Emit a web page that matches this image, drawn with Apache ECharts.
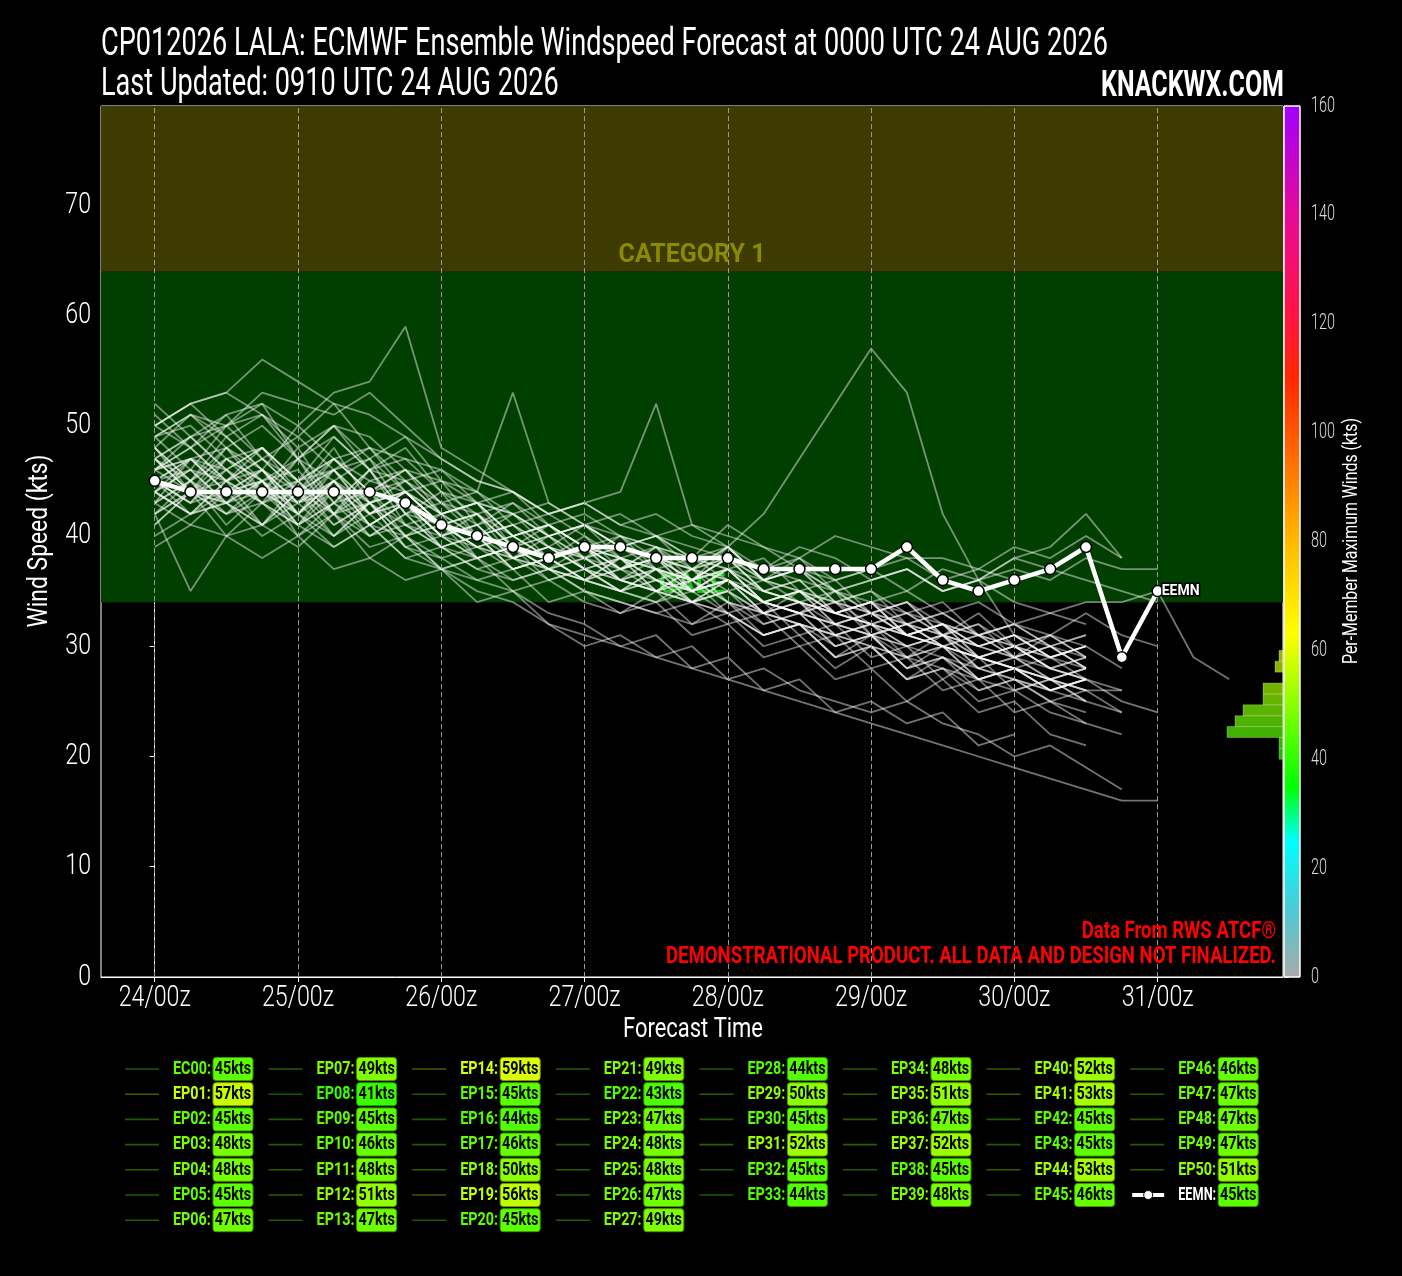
<!DOCTYPE html>
<html><head><meta charset="utf-8">
<script src="https://cdn.jsdelivr.net/npm/echarts@6/dist/echarts.min.js"></script>
<style>html,body{margin:0;padding:0;background:#000;} #c{width:1402px;height:1276px;}</style>
</head><body><div id="c"></div>
<script>
const FONT = "Roboto, 'Noto Sans', sans-serif";

// ---------------- DATA ----------------
const timeHours = [0,6,12,18,24,30,36,42,48,54,60,66,72,78,84,90,96,102,108,114,120,126,132,138,144,150,156,162,168,174,180];
const xTickHours = [0,24,48,72,96,120,144,168];
const xTickLabels = ['24/00z','25/00z','26/00z','27/00z','28/00z','29/00z','30/00z','31/00z'];
const yTickValues = [0,10,20,30,40,50,60,70];
const cbarTicks = [0,20,40,60,80,100,120,140,160];

const EC00 = [45,43,44,44,42,45,41,43,39,40,37,38,39,36,37,35,36,34,35,33,32,33,31,30,31,29,30];
const EP01 = [44,47,45,48,44,46,43,44,41,39,40,38,39,37,38,36,39,42,47,52,57,53,42,36,31,30,28];
const EP02 = [42,45,43,41,44,40,43,39,38,36,37,34,35,33,34,31,32,29,30,27,28,25,27,24,25,22,21];
const EP03 = [46,48,45,47,44,46,42,44,41,42,38,40,37,38,36,35,37,34,33,34,31,32,30,29,28,29,27,25,24];
const EP04 = [47,44,48,45,47,43,46,42,44,40,41,38,40,37,38,35,36,34,33,35,31,30,31,29,28,27,26];
const EP05 = [41,44,42,45,41,43,44,40,42,38,39,37,38,36,35,37,34,33,35,32,31,32,30,29,30,28,27];
const EP06 = [43,47,44,46,43,45,47,42,43,40,41,39,38,40,37,36,38,35,34,33,32,31,30,29,28,27,26,24];
const EP07 = [48,45,49,46,44,47,48,44,45,41,43,40,41,39,40,37,38,36,37,35,34,33,32,31,30,31,29];
const EP08 = [39,41,40,38,40,37,38,36,37,34,35,32,31,30,29,28,27,26,25,24,23,22,21,20,19,18,17,16,16];
const EP09 = [44,42,45,43,41,44,42,43,40,41,38,39,37,36,38,35,36,34,33,32,33,31,30,31,29,30,28];
const EP10 = [45,46,43,44,45,41,43,39,37,35,34,32,30,31,29,30,27,28,26,25,24,25,23,22,20,21,19,17];
const EP11 = [48,44,46,43,47,42,45,44,41,42,39,40,38,37,39,36,37,35,34,33,34,32,31,30,31,29,30,28];
const EP12 = [50,48,51,47,49,46,48,45,46,43,42,40,41,39,40,38,39,36,37,34,35,32,33,31,32,30,31];
const EP13 = [47,44,45,46,42,44,41,43,40,41,38,37,39,36,35,37,36,34,33,32,33,31,30,31,29,28,27];
const EP14 = [46,49,51,52,50,53,54,59,48,46,44,42,43,41,42,40,39,36,38,35,33,34,31,32,29,31,30];
const EP15 = [43,45,42,44,43,40,42,39,40,38,39,36,37,35,36,34,35,33,34,32,31,30,31,29,28,27,28];
const EP16 = [42,44,40,43,41,39,41,38,39,37,36,37,35,34,33,34,32,33,30,31,28,29,26,27,24,25,23,22];
const EP17 = [44,46,43,45,42,46,43,44,41,39,40,38,39,37,38,36,37,35,34,35,33,32,31,32,30,29,30];
const EP18 = [49,46,50,47,45,49,46,45,43,44,41,42,40,38,39,37,38,36,35,34,33,32,33,31,30,29,28];
const EP19 = [50,52,53,56,54,52,51,49,47,45,44,42,43,41,40,41,39,37,38,36,37,38,38,37,39,38,40,38];
const EP20 = [42,35,40,41,45,42,43,40,41,38,39,37,36,38,35,36,34,33,32,31,30,29,28,27,26,27,25,24];
const EP21 = [47,49,46,48,45,47,44,46,42,43,40,41,39,38,37,36,38,37,39,38,36,37,35,36,34,33,32];
const EP22 = [40,42,43,41,39,42,38,40,37,38,35,36,34,33,35,32,33,30,31,28,30,27,28,25,26,24,23];
const EP23 = [45,47,44,46,43,45,42,44,42,40,41,39,38,36,37,35,36,34,33,34,32,31,32,30,29,30,28];
const EP24 = [46,48,45,47,44,48,43,45,42,43,40,41,39,37,38,36,37,34,35,33,34,31,32,30,31,29,30];
const EP25 = [48,45,47,44,48,43,46,42,41,40,42,39,41,38,36,37,35,36,34,33,32,33,31,30,29,30,29];
const EP26 = [45,43,47,45,42,45,41,43,40,41,38,39,37,38,36,35,37,34,35,33,32,31,30,29,28,27,26,26];
const EP27 = [47,49,46,48,45,47,44,46,43,41,42,40,41,39,38,37,39,36,37,34,35,33,34,31,32,30,31];
const EP28 = [41,44,42,43,40,42,39,40,37,36,35,33,32,30,31,28,29,26,27,24,25,23,24,21,22];
const EP29 = [49,50,47,48,45,46,47,44,42,43,39,41,38,39,40,38,41,39,38,40,39,38,36,37,36];
const EP30 = [43,45,41,44,42,40,43,41,39,40,37,38,36,35,37,34,35,32,33,30,31,29,30,27,28,26,27];
const EP31 = [52,49,50,51,47,50,46,47,44,43,42,40,41,39,38,37,36,35,34,33,34,35,33,34,32,33,34,34,35,29,27];
const EP32 = [44,42,45,41,44,42,40,41,39,37,38,36,37,35,34,35,33,34,31,32,29,30,27,29,26,27,25];
const EP33 = [42,44,43,40,42,39,41,38,37,38,36,37,35,34,33,32,34,31,32,29,30,27,28,26,27,25,24];
const EP34 = [46,47,48,44,47,45,43,44,41,42,39,40,38,39,37,36,38,35,36,33,34,31,32,29,30,28,29];
const EP35 = [49,51,48,50,47,49,46,48,44,42,43,41,39,40,38,37,39,36,35,34,33,34,32,31,32,31,33,31,30];
const EP36 = [46,44,47,45,43,46,42,44,41,39,40,38,36,37,39,35,36,33,34,31,32,30,31,28,29,27,28];
const EP37 = [50,52,49,51,48,50,47,49,45,44,42,43,41,40,39,38,37,36,37,35,36,37,35,36,38,37,36,35,34];
const EP38 = [44,42,43,45,40,43,41,40,38,39,37,38,36,35,34,36,33,31,32,30,31,28,29,27,28,26,27];
const EP39 = [47,45,48,46,43,47,44,45,42,43,40,41,39,38,37,36,38,35,36,33,34,31,32,30,31,29,30];
const EP40 = [51,48,50,52,47,50,49,46,45,43,44,41,42,40,39,38,37,38,35,36,33,34,31,33,30,31,29];
const EP41 = [50,52,53,51,49,52,48,47,46,44,53,43,41,42,40,39,38,37,36,35,36,37,35,36,37,36,38,37,37];
const EP42 = [43,41,44,45,41,43,40,42,39,40,37,38,36,35,37,34,33,31,32,29,31,28,29,27,28,26,27];
const EP43 = [45,42,44,41,43,44,40,42,39,38,39,37,36,38,35,34,36,33,32,31,32,30,29,28,27,26,25];
const EP44 = [49,51,50,53,52,51,53,50,47,45,44,42,43,44,52,41,40,39,37,36,37,35,37,36,38,39,42,38];
const EP45 = [44,46,45,43,44,41,43,40,41,39,38,37,38,36,35,36,34,32,33,30,31,28,30,27,28,26,27];
const EP46 = [45,43,46,44,41,45,42,43,40,39,38,39,37,36,35,34,36,33,34,31,32,29,31,28,29,27,28];
const EP47 = [46,47,44,45,46,42,44,41,42,40,38,39,37,35,36,34,35,33,32,31,30,29,30,28,27,26,27,26];
const EP48 = [45,47,46,43,45,42,46,41,40,42,39,38,39,37,36,35,37,34,33,32,31,32,30,29,30,28,27];
const EP49 = [47,44,43,46,42,45,41,43,40,38,39,37,36,37,35,34,33,31,32,29,30,27,29,26,27,25,26];
const EP50 = [48,51,49,46,50,47,45,46,43,42,40,41,39,38,37,38,36,34,35,32,33,31,32,29,30,28,29];

const memberNames = ['EC00','EP01','EP02','EP03','EP04','EP05','EP06','EP07','EP08','EP09','EP10',
  'EP11','EP12','EP13','EP14','EP15','EP16','EP17','EP18','EP19','EP20','EP21','EP22','EP23','EP24',
  'EP25','EP26','EP27','EP28','EP29','EP30','EP31','EP32','EP33','EP34','EP35','EP36','EP37','EP38',
  'EP39','EP40','EP41','EP42','EP43','EP44','EP45','EP46','EP47','EP48','EP49','EP50'];
const memberData = [EC00,EP01,EP02,EP03,EP04,EP05,EP06,EP07,EP08,EP09,EP10,EP11,EP12,EP13,EP14,EP15,
  EP16,EP17,EP18,EP19,EP20,EP21,EP22,EP23,EP24,EP25,EP26,EP27,EP28,EP29,EP30,EP31,EP32,EP33,EP34,
  EP35,EP36,EP37,EP38,EP39,EP40,EP41,EP42,EP43,EP44,EP45,EP46,EP47,EP48,EP49,EP50];
const memberMax = [45,57,45,48,48,45,47,49,41,45,46,48,51,47,59,45,44,46,50,56,45,49,43,47,48,48,47,49,
  44,50,45,52,45,44,48,51,47,52,45,48,52,53,45,45,53,46,46,47,47,47,51];

const eemnName = 'EEMN';
const eemnData = [45,44,44,44,44,44,44,43,41,40,39,38,39,39,38,38,38,37,37,37,37,39,36,35,36,37,39,29,35];
const eemnMax = 45;

const galeBand = [34, 64];
const cat1Band = [64, 79];
const histBinStart = 40, histBinWidth = 2, histBinCount = 10;

const titleLine1 = 'CP012026 LALA: ECMWF Ensemble Windspeed Forecast at 0000 UTC 24 AUG 2026';
const titleLine2 = 'Last Updated: 0910 UTC 24 AUG 2026';
const brandText = 'KNACKWX.COM';
const creditText = 'Data From RWS ATCF®';
const disclaimerText = 'DEMONSTRATIONAL PRODUCT. ALL DATA AND DESIGN NOT FINALIZED.';

// ---------------- STYLE HELPERS ----------------
const cmapStops = [
  [0,[170,170,170]],[12,[80,200,210]],[25,[0,255,255]],[35,[0,255,0]],[63,[255,255,0]],
  [80,[255,185,0]],[95,[255,110,0]],[110,[255,40,0]],[122,[255,20,70]],[140,[230,10,150]],[160,[160,0,255]]
];
function cmapRGB(v){
  if (v <= cmapStops[0][0]) return cmapStops[0][1];
  for (let i=1;i<cmapStops.length;i++){
    const [v1,c1]=cmapStops[i]; const [v0,c0]=cmapStops[i-1];
    if (v<=v1){ const t=(v-v0)/(v1-v0); return c0.map((c,j)=>Math.round(c+(c1[j]-c)*t)); }
  }
  return cmapStops[cmapStops.length-1][1];
}
function cmap(v,a){ const c=cmapRGB(v); return a==null?`rgb(${c[0]},${c[1]},${c[2]})`:`rgba(${c[0]},${c[1]},${c[2]},${a})`; }
function cmapDark(v){ const c=cmapRGB(v).map(x=>Math.round(x*0.6)); return `rgb(${c[0]},${c[1]},${c[2]})`; }

const mctx = document.createElement('canvas').getContext('2d');
function textW(t, font){ mctx.font = font; return mctx.measureText(t).width; }
function ftext(t, x, y, font, sx, fill, align, extra){
  const el = {type:'text', x:x, y:y, scaleX:sx, z:10, silent:true,
    style:Object.assign({text:t, font:font, fill:fill, textAlign:align||'left', textVerticalAlign:'middle'}, (extra&&extra.style)||{})};
  if (extra && extra.rotation) el.rotation = extra.rotation;
  return el;
}

// histogram counts from per-member maxima
const histData = [];
for (let b=0;b<histBinCount;b++){
  const lo = histBinStart + b*histBinWidth, hi = lo + histBinWidth;
  const n = memberMax.filter(v => v>=lo && v<hi).length;
  if (n>0) histData.push([lo, hi, n]);
}

// ---------------- CHART ----------------
const chart = echarts.init(document.getElementById('c'), null, {renderer:'canvas'});

const series = [];
series.push({
  type:'line', data:[], xAxisIndex:0, yAxisIndex:0, z:0, silent:true,
  markArea:{
    silent:true,
    data:[
      [{yAxis:galeBand[0], itemStyle:{color:'#003f00'},
        label:{show:true, position:'insideBottom', formatter:'GALE', color:'#1fc01f', fontSize:27, fontWeight:'bold', fontFamily:FONT, distance:2}},
       {yAxis:galeBand[1]}],
      [{yAxis:cat1Band[0], itemStyle:{color:'#3d3b00'},
        label:{show:true, position:'insideBottom', formatter:'CATEGORY 1', color:'#8c8a00', fontSize:25, fontWeight:'bold', fontFamily:FONT, distance:3}},
       {yAxis:cat1Band[1]}]
    ]
  },
  markLine:{
    silent:true, symbol:['none','none'], label:{show:false},
    lineStyle:{color:'#9a9a9a', type:[5,3], width:1},
    data: xTickHours.map(h => ({xAxis:h}))
  }
});

memberData.forEach((arr, i) => {
  series.push({
    name: memberNames[i], type:'line', xAxisIndex:0, yAxisIndex:0, z:2, silent:true,
    symbol:'none', showSymbol:false,
    lineStyle:{color:'rgba(255,255,255,0.45)', width:1.8},
    data: arr.map((v,k)=>[timeHours[k], v])
  });
});

series.push({
  name: eemnName, type:'line', xAxisIndex:0, yAxisIndex:0, z:5, silent:true,
  symbol:'circle', symbolSize:11,
  itemStyle:{color:'#fff', borderColor:'#000', borderWidth:1.5},
  lineStyle:{color:'#fff', width:4.5},
  data: eemnData.map((v,k)=>[timeHours[k], v]),
  endLabel:{show:true, formatter:eemnName, color:'#fff', fontWeight:'bold', fontSize:14, fontFamily:FONT,
    textBorderColor:'#000', textBorderWidth:3, distance:4}
});

// colorbar
series.push({
  type:'custom', xAxisIndex:1, yAxisIndex:1, silent:true, z:3,
  data:[[0,160]],
  renderItem:function(params, api){
    const p0 = api.coord([0, 0]); const p1 = api.coord([1, 160]);
    return {
      type:'rect',
      shape:{x:p0[0], y:p1[1], width:p1[0]-p0[0], height:p0[1]-p1[1]},
      style:{
        fill: new echarts.graphic.LinearGradient(0,1,0,0, cmapStops.map(s=>({offset:s[0]/160, color:`rgb(${s[1].join(',')})`}))),
        stroke:'#ffffff', lineWidth:1
      }
    };
  }
});

// histogram
series.push({
  type:'custom', xAxisIndex:2, yAxisIndex:2, silent:true, z:4,
  data: histData,
  renderItem:function(params, api){
    const lo = api.value(0), hi = api.value(1), n = api.value(2);
    const a = api.coord([n, hi]); const b = api.coord([0, lo]);
    return {
      type:'rect',
      shape:{x:a[0], y:a[1], width:b[0]-a[0], height:b[1]-a[1]},
      style:{fill: cmap((lo+hi)/2, 0.7), stroke:'rgba(255,255,255,0.25)', lineWidth:1}
    };
  }
});

chart.setOption({
  animation:false,
  backgroundColor:'#000',
  grid:[
    {left:101, top:106, width:1182, height:871, show:true, borderColor:'#fff', borderWidth:1, backgroundColor:'#000'},
    {left:1284, top:106, width:16, height:871},
    {left:1083, top:106, width:200, height:871}
  ],
  xAxis:[
    {gridIndex:0, type:'value', min:-9, max:189,
      axisLine:{show:true, lineStyle:{color:'#fff'}},
      axisTick:{show:true, customValues:xTickHours, length:5, lineStyle:{color:'#fff'}},
      axisLabel:{show:false}, splitLine:{show:false}},
    {gridIndex:1, type:'value', min:0, max:1, show:false},
    {gridIndex:2, type:'value', min:0, max:50, inverse:true, show:false}
  ],
  yAxis:[
    {gridIndex:0, type:'value', min:0, max:79,
      axisLine:{show:true, lineStyle:{color:'#fff'}},
      axisTick:{show:true, customValues:yTickValues, length:5, lineStyle:{color:'#fff'}},
      axisLabel:{show:false}, splitLine:{show:false}},
    {gridIndex:1, type:'value', min:0, max:160, interval:20, position:'right',
      axisLine:{show:false},
      axisTick:{show:true, length:5, lineStyle:{color:'#ddd'}},
      axisLabel:{show:false}, splitLine:{show:false}},
    {gridIndex:2, type:'value', min:0, max:160, show:false}
  ],
  series: series
});

// ---------------- TEXT (graphic, condensed to match reference) ----------------
const g = [];
const fTitle = `400 39px ${FONT}`;
const sTitle = 1007 / textW(titleLine1, fTitle);
g.push(ftext(titleLine1, 101, 45, fTitle, sTitle, '#fff', 'left'));
g.push(ftext(titleLine2, 101, 85, fTitle, sTitle, '#fff', 'left'));
const fBrand = `bold 36px ${FONT}`;
g.push(ftext(brandText, 1284, 87, fBrand, 183 / textW(brandText, fBrand), '#fff', 'right'));
const fRed = `bold 24px ${FONT}`;
const sRed = 610 / textW(disclaimerText, fRed);
g.push(ftext(creditText, 1276, 932, fRed, sRed, '#ff0000', 'right'));
g.push(ftext(disclaimerText, 1276, 957, fRed, sRed, '#ff0000', 'right'));

// axis names
const fName = `400 28px ${FONT}`;
g.push(ftext('Forecast Time', 693, 1030, fName, 140 / textW('Forecast Time', fName), '#fff', 'center'));
g.push(ftext('Wind Speed (kts)', 40, 541, fName, 173 / textW('Wind Speed (kts)', fName), '#fff', 'center', {rotation:Math.PI/2}));
const fCbName = `400 20px ${FONT}`;
g.push(ftext('Per-Member Maximum Winds (kts)', 1352, 541, fCbName, 246 / textW('Per-Member Maximum Winds (kts)', fCbName), '#fff', 'center', {rotation:Math.PI/2}));

// tick labels placed through the axes' own scales
const fTick = `300 30px ${FONT}`;
const sTick = 72 / textW('24/00z', fTick);
xTickHours.forEach((h, i) => {
  const px = chart.convertToPixel({xAxisIndex:0}, h);
  g.push(ftext(xTickLabels[i], px, 998, fTick, sTick, '#fff', 'center'));
});
yTickValues.forEach(v => {
  const py = chart.convertToPixel({yAxisIndex:0}, v);
  g.push(ftext(String(v), 91, py, fTick, sTick, '#fff', 'right'));
});
const fCb = `300 22px ${FONT}`;
const sCb = 24 / textW('160', fCb);
cbarTicks.forEach(v => {
  const py = chart.convertToPixel({yAxisIndex:1}, v);
  g.push(ftext(String(v), 1311, py, fCb, sCb, '#ddd', 'left'));
});

// legend
const colCounts = [7,7,7,7,6,6,6,6];
const allNames = memberNames.concat([eemnName]);
const allMax = memberMax.concat([eemnMax]);
const fLeg = `bold 19px ${FONT}`;
const sLeg = 38 / textW('EC00:', fLeg);
let k = 0;
colCounts.forEach((cnt, c) => {
  for (let r=0; r<cnt; r++, k++){
    const x0 = 125 + c*143.6, y = 1069 + r*25.2;
    const isMean = allNames[k] === eemnName;
    const v = allMax[k];
    const label = allNames[k] + ':';
    const sL = Math.min(sLeg, 38 / textW(label, fLeg));
    if (isMean){
      g.push({type:'line', silent:true, shape:{x1:x0+2, y1:y, x2:x0+34, y2:y}, style:{stroke:'#fff', lineWidth:4}});
      g.push({type:'circle', silent:true, shape:{cx:x0+18, cy:y, r:4.5}, style:{fill:'#fff', stroke:'#000', lineWidth:1}});
    } else {
      g.push({type:'line', silent:true, shape:{x1:x0, y1:y, x2:x0+34, y2:y}, style:{stroke:cmap(v,0.35), lineWidth:1.6}});
    }
    g.push(ftext(label, x0+48, y, fLeg, sL, isMean?'#fff':cmap(v), 'left',
      isMean ? {style:{stroke:'#000', lineWidth:3}} : null));
    g.push({type:'rect', silent:true, shape:{x:x0+88, y:y-11.5, width:40, height:23, r:3},
      style:{fill:cmap(v), stroke:cmapDark(v), lineWidth:1}});
    g.push(ftext(v+'kts', x0+108, y, fLeg, sLeg, '#000', 'center'));
  }
});

chart.setOption({graphic: g});
</script></body></html>
